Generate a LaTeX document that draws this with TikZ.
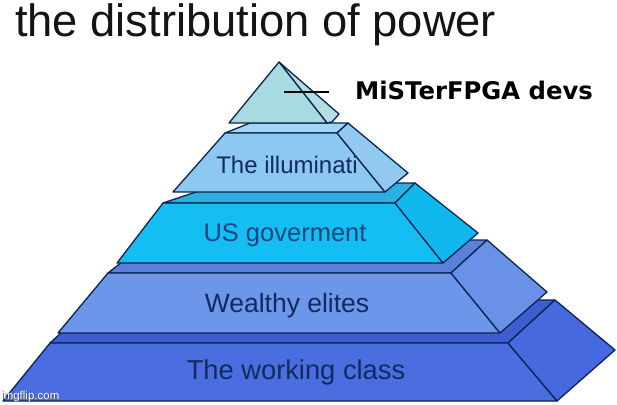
\documentclass[tikz,border=0pt]{standalone}
\usepackage{fontspec}
\setmainfont{Liberation Sans}
\newfontfamily\djvfont{DejaVu Sans}
\definecolor{navy}{HTML}{0B2452}
\definecolor{pyrfront}{HTML}{A8DBE1}
\definecolor{pyrside}{HTML}{B2DEE4}
\definecolor{ilfront}{HTML}{8DC8F0}
\definecolor{iltop}{HTML}{A3D5F4}
\definecolor{ilside}{HTML}{92CAEF}
\definecolor{usfront}{HTML}{14BEF2}
\definecolor{ustop}{HTML}{2CB0DE}
\definecolor{usside}{HTML}{10B8EE}
\definecolor{wefront}{HTML}{6B96EA}
\definecolor{wetop}{HTML}{5B80DA}
\definecolor{weside}{HTML}{6891E7}
\definecolor{wofront}{HTML}{4A6EE0}
\definecolor{wotop}{HTML}{3F5DCF}
\definecolor{woside}{HTML}{4769DE}
\definecolor{lbltext}{HTML}{112B60}
\definecolor{ustext}{HTML}{17467F}
\definecolor{titletext}{HTML}{141414}
\begin{document}
\begin{tikzpicture}[x=1pt,y=-1pt,
  face/.style={draw=navy,line width=1.3pt,line join=round},
  tierlbl/.style={anchor=base,inner sep=0pt,text=lbltext},
  pointer/.style={draw=black,line width=1.3pt}]
\useasboundingbox[fill=white] (0,0) rectangle (617,404);

% working class tier
\filldraw[face,fill=wotop] (50,343) -- (97,300) -- (555,300) -- (508,343) -- cycle;
\filldraw[face,fill=wofront] (50,343) -- (508,343) -- (557,401) -- (3,401) -- cycle;
\filldraw[face,fill=woside] (508,343) -- (555,300) -- (615,350) -- (557,401) -- cycle;

% wealthy elites tier
\filldraw[face,fill=wetop] (108,273) -- (150,240) -- (487,240) -- (451,273) -- cycle;
\filldraw[face,fill=wefront] (108,273) -- (451,273) -- (500,333) -- (58,333) -- cycle;
\filldraw[face,fill=weside] (451,273) -- (487,240) -- (547,292) -- (500,333) -- cycle;

% US government tier
\filldraw[face,fill=ustop] (163,203) -- (223,183) -- (415,183) -- (395,203) -- cycle;
\filldraw[face,fill=usfront] (163,203) -- (395,203) -- (443,263) -- (117,263) -- cycle;
\filldraw[face,fill=usside] (395,203) -- (415,183) -- (478,233) -- (443,263) -- cycle;

% illuminati tier
\filldraw[face,fill=iltop] (225,133) -- (250,123) -- (348,123) -- (337,133) -- cycle;
\filldraw[face,fill=ilfront] (225,133) -- (337,133) -- (385,192) -- (173,192) -- cycle;
\filldraw[face,fill=ilside] (337,133) -- (348,123) -- (408,173) -- (385,192) -- cycle;

% top pyramid
\filldraw[face,fill=pyrside] (279,62) -- (339,114) -- (332,122) -- (327,123) -- cycle;
\filldraw[face,fill=pyrfront] (279,62) -- (327,123) -- (229,123) -- cycle;

% labels
\node[tierlbl,font=\fontsize{24}{28}\selectfont] (illum) at (287,173) {The illuminati};
\node[tierlbl,font=\fontsize{25.5}{30}\selectfont,text=ustext] (usgov) at (285,241) {US goverment};
\node[tierlbl,font=\fontsize{26.5}{31}\selectfont] (wealthy) at (287,312) {Wealthy elites};
\node[tierlbl,font=\fontsize{27.3}{32}\selectfont] (working) at (296,379) {The working class};

% title
\node[anchor=base west,inner sep=0pt,text=titletext,font=\fontsize{45.3}{52}\selectfont] (title) at (15,37) {the distribution of power};

% MiSTer label and pointer
\node[anchor=base west,inner sep=0pt,text=black,font=\djvfont\bfseries\fontsize{24.3}{29}\selectfont] (mister) at (355,99) {MiSTerFPGA devs};
\coordinate (ptrA) at (284,92);
\coordinate (ptrB) at (329,92);
\draw[pointer] (ptrA) -- (ptrB);

% watermark
\node[anchor=base west,inner sep=0pt,text=black!70,font=\fontsize{11.5}{13}\selectfont] (wmshadow) at (1.8,399.8) {imgflip.com};
\node[anchor=base west,inner sep=0pt,text=white,font=\fontsize{11.5}{13}\selectfont] (wm) at (1,399) {imgflip.com};
\end{tikzpicture}
\end{document}
